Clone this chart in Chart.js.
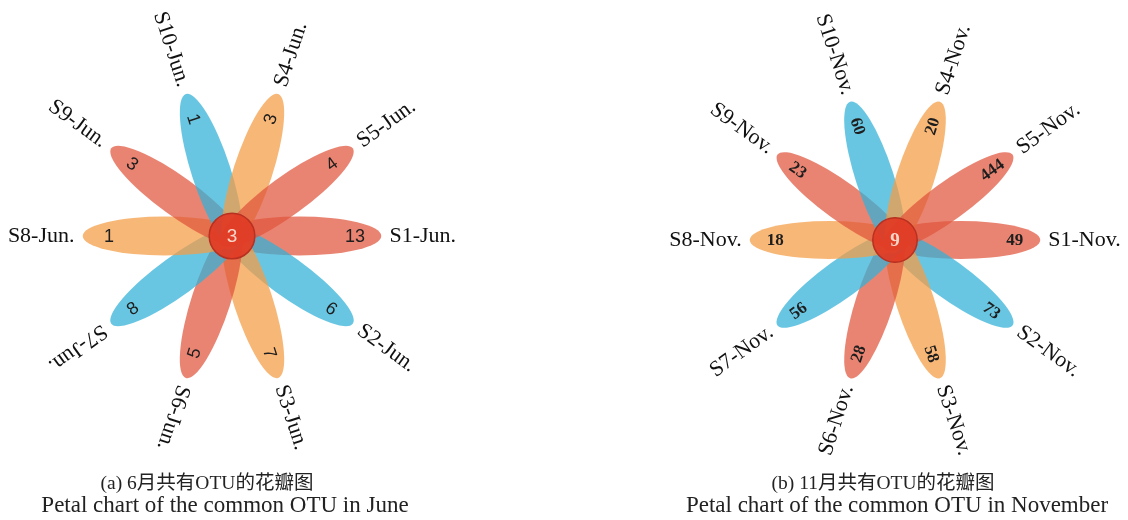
<!DOCTYPE html>
<html>
<head>
<meta charset="utf-8">
<script src="https://cdn.jsdelivr.net/npm/chart.js@4.4.1/dist/chart.umd.min.js"></script>
<style>
  html, body { margin: 0; padding: 0; background: #fff; }
  body { width: 1128px; height: 520px; position: relative; overflow: hidden; }
  .panel { position: absolute; top: 0; width: 564px; height: 470px; }
  .cap {
    position: absolute; white-space: nowrap; transform: translateX(-50%);
    font-family: "Liberation Serif", "Noto Sans CJK SC", serif; color: #222;
  }
  .zh { top: 466px; font-size: 19.5px; }
  .en { top: 492px; font-size: 23px; }
</style>
</head>
<body>
<div class="panel" style="left:0"><canvas id="chart-jun"></canvas></div>
<div class="panel" style="left:564px"><canvas id="chart-nov"></canvas></div>
<div class="cap zh" style="left:207px">(a) 6月共有OTU的花瓣图</div>
<div class="cap en" style="left:225px">Petal chart of the common OTU in June</div>
<div class="cap zh" style="left:883px">(b) 11月共有OTU的花瓣图</div>
<div class="cap en" style="left:897px">Petal chart of the common OTU in November</div>
<script>
// petals go clockwise starting from the right
const junSamples = ["S1-Jun.", "S2-Jun.", "S3-Jun.", "S6-Jun.", "S7-Jun.", "S8-Jun.", "S9-Jun.", "S10-Jun.", "S4-Jun.", "S5-Jun."];
const junCounts = [13, 6, 7, 5, 8, 1, 3, 1, 3, 4];
const junCore = 3;

const novSamples = ["S1-Nov.", "S2-Nov.", "S3-Nov.", "S6-Nov.", "S7-Nov.", "S8-Nov.", "S9-Nov.", "S10-Nov.", "S4-Nov.", "S5-Nov."];
const novCounts = [49, 73, 58, 28, 56, 18, 23, 60, 20, 444];
const novCore = 9;

// red, blue, orange repeating
const petalColors = ["rgba(224,84,60,0.72)", "rgba(52,178,216,0.74)", "rgba(244,158,72,0.74)"];

const petalPlugin = {
  id: "petals",
  beforeDatasetsDraw(chart, args, opts) {
    const scale = chart.scales.r;
    const R = scale.drawingArea;
    const ctx = chart.ctx;
    chart.data.labels.forEach((name, i) => {
      const mid = scale.getPointPosition(i, R * 0.45);
      ctx.save();
      ctx.translate(mid.x, mid.y);
      ctx.rotate(mid.angle);
      ctx.beginPath();
      ctx.ellipse(0, 0, R * 0.545, R * 0.13, 0, 0, Math.PI * 2);
      ctx.fillStyle = petalColors[i % 3];
      ctx.fill();
      ctx.restore();
    });

    // core circle
    ctx.save();
    ctx.beginPath();
    ctx.arc(scale.xCenter, scale.yCenter, R * 0.152, 0, Math.PI * 2);
    ctx.fillStyle = "rgba(224,60,38,0.95)";
    ctx.fill();
    ctx.lineWidth = 1.5;
    ctx.strokeStyle = "#b83020";
    ctx.stroke();
    ctx.fillStyle = "#f6d6c8";
    ctx.font = opts.coreFont;
    ctx.textAlign = "center";
    ctx.textBaseline = "middle";
    ctx.fillText(String(opts.core), scale.xCenter, scale.yCenter + 1);
    ctx.restore();
  },
  afterDatasetsDraw(chart, args, opts) {
    const scale = chart.scales.r;
    const R = scale.drawingArea;
    const ctx = chart.ctx;
    const counts = chart.data.datasets[0].data;

    chart.data.labels.forEach((name, i) => {
      // count near the petal tip, kept readable
      const p = scale.getPointPosition(i, R * 0.82);
      const leftSide = Math.cos(p.angle) < -0.01;
      ctx.save();
      ctx.translate(p.x, p.y);
      ctx.rotate(leftSide ? p.angle + Math.PI : p.angle);
      ctx.font = opts.countFont;
      ctx.fillStyle = "#1e1e1e";
      ctx.textAlign = "center";
      ctx.textBaseline = "middle";
      ctx.fillText(String(counts[i]), 0, 1);
      ctx.restore();

      // sample name outside the petal
      const q = scale.getPointPosition(i, R * 1.05);
      const flip = opts.flip.includes(i);
      ctx.save();
      ctx.translate(q.x, q.y);
      ctx.rotate(flip ? q.angle + Math.PI : q.angle);
      ctx.font = opts.labelFont;
      ctx.fillStyle = "#111";
      ctx.textAlign = flip ? "right" : "left";
      ctx.textBaseline = "middle";
      ctx.fillText(name, 0, 0);
      ctx.restore();
    });
  }
};

function makeChart(id, samples, counts, core, pad, petalOpts) {
  return new Chart(document.getElementById(id).getContext("2d"), {
    type: "radar",
    data: {
      labels: samples,
      datasets: [{
        label: "common OTU",
        data: counts,
        pointRadius: 0,
        borderWidth: 0,
        backgroundColor: "transparent",
        showLine: false,
      }],
    },
    options: {
      responsive: true,
      maintainAspectRatio: false,
      animation: false,
      layout: { padding: pad },
      scales: {
        r: {
          startAngle: 90,
          min: 0,
          max: 500,
          grid: { display: false },
          angleLines: { display: false },
          ticks: { display: false },
          pointLabels: { display: false },
        },
      },
      plugins: {
        legend: { display: false },
        tooltip: { enabled: false },
        petals: Object.assign({ core: core }, petalOpts),
      },
    },
    plugins: [petalPlugin],
  });
}

makeChart("chart-jun", junSamples, junCounts, junCore,
  { left: 82, right: 182, top: 86, bottom: 84 },
  {
    flip: [5, 6, 7],
    countFont: "18px 'Liberation Sans'",
    coreFont: "19px 'Liberation Sans'",
    labelFont: "22px 'Liberation Serif'",
  });

makeChart("chart-nov", novSamples, novCounts, novCore,
  { left: 185, right: 87, top: 94, bottom: 84 },
  {
    flip: [3, 4, 5, 6, 7],
    countFont: "bold 17px 'Liberation Serif'",
    coreFont: "bold 19px 'Liberation Serif'",
    labelFont: "22px 'Liberation Serif'",
  });
</script>
</body>
</html>
